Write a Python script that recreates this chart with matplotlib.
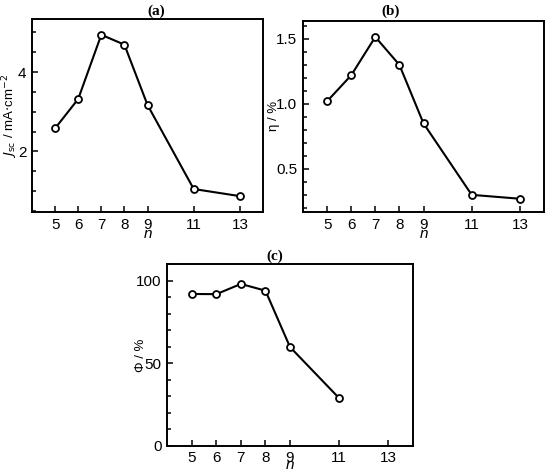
import matplotlib
matplotlib.use("Agg")
import matplotlib.pyplot as plt
from matplotlib.ticker import MultipleLocator

plt.rcParams['font.family'] = ['Liberation Sans', 'DejaVu Sans']

# Data
n_values = [5, 6, 7, 8, 9, 11, 13]
jsc = [2.58, 3.32, 4.94, 4.69, 3.17, 1.05, 0.87]
eta = [1.02, 1.22, 1.515, 1.30, 0.85, 0.30, 0.27]
n_phi = [5, 6, 7, 8, 9, 11]
phi = [92.1, 92.0, 98.2, 94.1, 59.9, 28.9]
xticks = [5, 6, 7, 8, 9, 11, 13]

W, H = 550, 472
fig = plt.figure(figsize=(W / 100, H / 100), dpi=100)


def px_axes(left, top, right, bottom):
    return fig.add_axes([left / W, 1 - bottom / H, (right - left) / W, (bottom - top) / H])


def style(ax, x, y, ylim, major, minor, ylabel, ylab_x, nlab_y):
    ax.plot(x, y, color='black', lw=1.5, marker='o', ms=5,
            mfc='white', mec='black', mew=1.3)
    ax.set_xlim(4, 14)
    ax.set_ylim(*ylim)
    ax.set_xticks(xticks)
    ax.yaxis.set_major_locator(MultipleLocator(major))
    ax.yaxis.set_minor_locator(MultipleLocator(minor))
    ax.tick_params(which='both', direction='in', labelsize=11, width=1.1,
                   top=False, right=False)
    ax.tick_params(which='major', length=4, pad=4)
    ax.tick_params(which='minor', length=3)
    for s in ax.spines.values():
        s.set_linewidth(1.4)
    ax.set_xlabel('n', fontstyle='italic', fontsize=11)
    ax.xaxis.set_label_coords(0.5, nlab_y)
    ax.set_ylabel(ylabel, fontsize=9.5)
    ax.yaxis.set_label_coords(ylab_x, 0.5)


ax_a = px_axes(32, 19.3, 263, 212)
style(ax_a, n_values, jsc, (0.47, 5.33), 2, 0.5,
      r'$J_{\rm sc}$ / mA$\cdot$cm$^{-2}$', -0.05, -0.078)

ax_b = px_axes(303, 20.7, 544, 212)
style(ax_b, n_values, eta, (0.168, 1.64), 0.5, 0.1,
      'η / %', -0.095, -0.078)

ax_c = px_axes(167.3, 264, 412.7, 445.7)
style(ax_c, n_phi, phi, (0, 110.3), 50, 10,
      'Φ / %', -0.082, -0.066)

# panel letters
for label, x, y in [('(a)', 156, 11.5), ('(b)', 391, 11), ('(c)', 275, 256)]:
    fig.text(x / W, 1 - y / H, label, ha='center', va='center',
             fontsize=11, fontweight='bold', family='Liberation Serif')

fig.savefig('out.png', dpi=100)
